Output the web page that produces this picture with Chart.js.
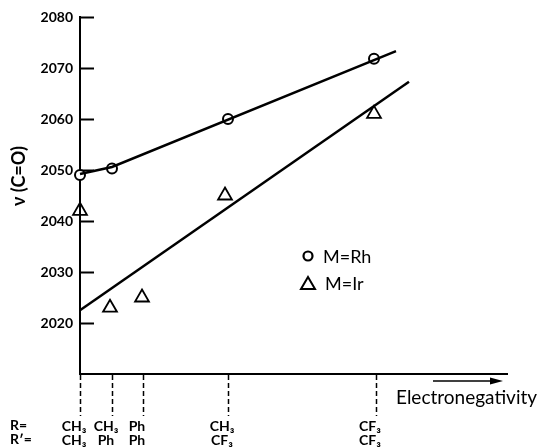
<!DOCTYPE html>
<html>
<head>
<meta charset="utf-8">
<script src="https://cdn.jsdelivr.net/npm/chart.js@4.4.1/dist/chart.umd.min.js"></script>
<style>
  html, body { margin: 0; padding: 0; background: #fff; }
  #wrap { width: 544px; height: 447px; }
</style>
</head>
<body>
<div id="wrap"><canvas id="chart"></canvas></div>
<script>
// positions along the electronegativity axis (order only, arbitrary units)
const xPositions = [0, 3.2, 6.3, 14.8, 29.6];
const rLabels = ['CH₃', 'CH₃', 'Ph', 'CH₃', 'CF₃'];
const rPrimeLabels = ['CH₃', 'Ph', 'Ph', 'CF₃', 'CF₃'];
const yTicks = [2020, 2030, 2040, 2050, 2060, 2070, 2080];

// measured ν(C=O), cm-1
const rhX = [0, 3.2, 14.8, 29.4];
const rhY = [2049, 2050.3, 2060, 2071.8];
const irX = [0, 3.0, 6.2, 14.5, 29.4];
const irY = [2042, 2023, 2025, 2045, 2061];

// hand drawn trend lines
const rhFitX = [0, 3.2, 31.6];
const rhFitY = [2049.2, 2050.6, 2073.3];
const irFitX = [0, 32.9];
const irFitY = [2022.5, 2067.3];

const FONT = 'Lato, "Open Sans", "DejaVu Sans", sans-serif';

function pts(xs, ys) {
    return xs.map((x, i) => ({ x: x, y: ys[i] }));
}

// extra texts: axis title, R labels, legend, arrow
const annotations = {
    id: 'annotations',
    afterDraw(chart) {
        const ctx = chart.ctx;
        const xs = chart.scales.x;
        ctx.save();
        ctx.fillStyle = '#000';
        ctx.strokeStyle = '#000';

        // y title
        ctx.save();
        ctx.font = 'bold 18px ' + FONT;
        ctx.translate(19, 176);
        ctx.rotate(-Math.PI / 2);
        ctx.textAlign = 'center';
        ctx.textBaseline = 'middle';
        ctx.fillText('ν (C=O)', 0, 0);
        ctx.restore();

        // row captions
        ctx.font = 'bold 14px ' + FONT;
        ctx.textAlign = 'left';
        ctx.textBaseline = 'middle';
        ctx.fillText('R=', 10, 425);
        ctx.fillText('R′=', 10, 439);

        // arrow + caption
        const ax0 = xs.right - 74, ax1 = xs.right - 4, ay = xs.top + 7;
        ctx.lineWidth = 1.5;
        ctx.beginPath();
        ctx.moveTo(ax0, ay);
        ctx.lineTo(ax1 - 8, ay);
        ctx.stroke();
        ctx.beginPath();
        ctx.moveTo(ax1, ay);
        ctx.lineTo(ax1 - 13, ay - 3.5);
        ctx.lineTo(ax1 - 13, ay + 3.5);
        ctx.closePath();
        ctx.fill();
        ctx.font = '19px ' + FONT;
        ctx.fillText('Electronegativity', 396, 398);

        // legend
        ctx.lineWidth = 2.2;
        ctx.fillStyle = '#fff';
        ctx.beginPath();
        ctx.arc(308, 256, 4.5, 0, Math.PI * 2);
        ctx.fill();
        ctx.stroke();
        ctx.lineWidth = 2;
        ctx.beginPath();
        ctx.moveTo(308, 277);
        ctx.lineTo(315, 289);
        ctx.lineTo(301, 289);
        ctx.closePath();
        ctx.stroke();
        ctx.fillStyle = '#000';
        ctx.font = '18px ' + FONT;
        ctx.fillText('M=Rh', 323, 257);
        ctx.fillText('M=Ir', 325, 284);
        ctx.restore();
    }
};

new Chart(document.getElementById('chart'), {
    type: 'scatter',
    data: {
        datasets: [
            {
                label: 'Rh trend',
                data: pts(rhFitX, rhFitY),
                showLine: true,
                borderColor: '#000',
                borderWidth: 2.5,
                pointRadius: 0,
                clip: false
            },
            {
                label: 'Ir trend',
                data: pts(irFitX, irFitY),
                showLine: true,
                borderColor: '#000',
                borderWidth: 2.5,
                pointRadius: 0,
                clip: false
            },
            {
                label: 'M=Rh',
                data: pts(rhX, rhY),
                pointStyle: 'circle',
                pointRadius: 5,
                pointBorderWidth: 2,
                pointBackgroundColor: '#fff',
                pointBorderColor: '#000',
                clip: false
            },
            {
                label: 'M=Ir',
                data: pts(irX, irY),
                pointStyle: 'triangle',
                pointRadius: 8,
                pointBorderWidth: 1.8,
                pointBackgroundColor: 'rgba(255,255,255,0)',
                pointBorderColor: '#000',
                clip: false
            }
        ]
    },
    options: {
        responsive: true,
        maintainAspectRatio: false,
        animation: false,
        layout: { autoPadding: false, padding: { top: 17, right: 37, left: 0, bottom: 0 } },
        plugins: {
            legend: { display: false },
            tooltip: { enabled: false }
        },
        scales: {
            x: {
                type: 'linear',
                min: 0,
                max: 42.7,
                afterFit: s => { s.height = 73; s.paddingLeft = 0; s.paddingRight = 0; },
                afterBuildTicks: s => { s.ticks = xPositions.map(v => ({ value: v })); },
                border: { color: '#000', width: 2 },
                grid: {
                    drawOnChartArea: false,
                    tickLength: 42,
                    tickColor: '#000',
                    tickWidth: 1.5,
                    tickBorderDash: [5, 3]
                },
                ticks: {
                    autoSkip: false,
                    maxRotation: 0,
                    padding: 3,
                    labelOffset: -6,
                    color: '#000',
                    font: { family: FONT, size: 14, weight: 'bold', lineHeight: 1.0 },
                    callback: (v, i) => [rLabels[i], rPrimeLabels[i]]
                }
            },
            y: {
                min: 2010,
                max: 2080,
                afterFit: s => { s.width = 80; s.paddingTop = 0; s.paddingBottom = 0; },
                afterBuildTicks: s => { s.ticks = yTicks.map(v => ({ value: v })); },
                border: { color: '#000', width: 2 },
                grid: {
                    drawOnChartArea: false,
                    tickLength: -14,
                    tickColor: '#000',
                    tickWidth: 2
                },
                ticks: {
                    padding: 21,
                    color: '#000',
                    font: { family: FONT, size: 14, weight: 'bold' },
                    callback: v => String(v)
                }
            }
        }
    },
    plugins: [annotations]
});
</script>
</body>
</html>
